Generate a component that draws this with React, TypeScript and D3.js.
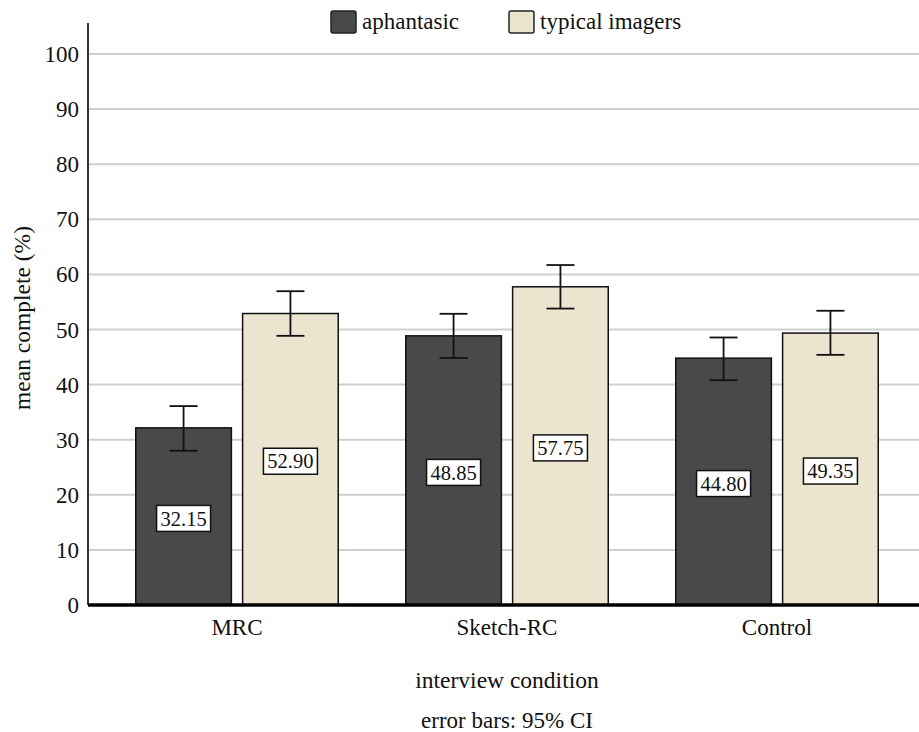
import * as d3 from "d3";

const conditions = ["MRC", "Sketch-RC", "Control"];
const groups = ["aphantasic", "typical imagers"];
const aphantasicMeans = [32.15, 48.85, 44.8];
const typicalMeans = [52.9, 57.75, 49.35];
const aphantasicLow = [28.0, 44.85, 40.8];
const aphantasicHigh = [36.1, 52.85, 48.55];
const typicalLow = [48.85, 53.8, 45.4];
const typicalHigh = [56.95, 61.7, 53.4];
const yTicks = [0, 10, 20, 30, 40, 50, 60, 70, 80, 90, 100];

const W = 919;
const H = 732;
const axisX = 88;
const base = 605;
const colors = ["#47494b", "#ebe4cf"];
const ff = "Liberation Serif";

const App = () => {
  const y = d3.scaleLinear().domain([0, 100]).range([base, 54]);
  const x = d3.scaleBand().domain(conditions).range([102, 912]).paddingInner(0.25).paddingOuter(0.125);
  const xi = d3.scaleBand().domain(groups).range([0, x.bandwidth()]).paddingInner(0.105);

  const rows = conditions.flatMap((c, i) => [
    { c, g: groups[0], v: aphantasicMeans[i], lo: aphantasicLow[i], hi: aphantasicHigh[i], col: colors[0] },
    { c, g: groups[1], v: typicalMeans[i], lo: typicalLow[i], hi: typicalHigh[i], col: colors[1] },
  ]);

  return (
    <svg width={W} height={H} style={{ position: "absolute", left: 0, top: 0, background: "#fff" }}>
      {/* gridlines */}
      {yTicks.filter(t => t > 0).map(t => (
        <line key={t} x1={axisX} x2={W} y1={y(t)} y2={y(t)} stroke="#cfcfcf" strokeWidth={2} />
      ))}
      {/* tick labels */}
      {yTicks.map(t => (
        <text key={t} x={79} y={y(t)} dy="0.35em" textAnchor="end" fontFamily={ff} fontSize={23} fill="#111">{t}</text>
      ))}
      {/* bars */}
      {rows.map((r, i) => {
        const bx = (x(r.c) ?? 0) + (xi(r.g) ?? 0);
        return (
          <rect key={i} x={bx} y={y(r.v)} width={xi.bandwidth()} height={base - y(r.v)} fill={r.col} stroke="#111" strokeWidth={1.5} />
        );
      })}
      {/* error bars and value labels */}
      {rows.map((r, i) => {
        const cx = (x(r.c) ?? 0) + (xi(r.g) ?? 0) + xi.bandwidth() / 2;
        const ly = y(r.v / 2) + 2;
        return (
          <g key={i}>
            <line x1={cx} x2={cx} y1={y(r.hi)} y2={y(r.lo)} stroke="#111" strokeWidth={1.8} />
            <line x1={cx - 14} x2={cx + 14} y1={y(r.hi)} y2={y(r.hi)} stroke="#111" strokeWidth={1.8} />
            <line x1={cx - 14} x2={cx + 14} y1={y(r.lo)} y2={y(r.lo)} stroke="#111" strokeWidth={1.8} />
            <rect x={cx - 27} y={ly - 13} width={54} height={26} fill="#fff" stroke="#111" strokeWidth={1.5} />
            <text x={cx} y={ly} dy="0.35em" textAnchor="middle" fontFamily={ff} fontSize={20.5} fill="#111">{r.v.toFixed(2)}</text>
          </g>
        );
      })}
      {/* axes */}
      <line x1={axisX} x2={axisX} y1={23} y2={base} stroke="#333" strokeWidth={2} />
      <line x1={axisX} x2={W} y1={base} y2={base} stroke="#000" strokeWidth={3.5} />
      {conditions.map(c => (
        <text key={c} x={(x(c) ?? 0) + x.bandwidth() / 2} y={635} textAnchor="middle" fontFamily={ff} fontSize={23} fill="#111">{c}</text>
      ))}
      <text x={507} y={688} textAnchor="middle" fontFamily={ff} fontSize={23.5} fill="#111">interview condition</text>
      <text x={507} y={728} textAnchor="middle" fontFamily={ff} fontSize={23} fill="#111">error bars: 95% CI</text>
      <text transform="translate(30,318) rotate(-90)" textAnchor="middle" fontFamily={ff} fontSize={23.5} fill="#111">mean complete (%)</text>
      {/* legend */}
      {groups.map((g, i) => {
        const lx = i === 0 ? 331 : 509;
        return (
          <g key={g}>
            <rect x={lx} y={11} width={25} height={22} rx={2} fill={colors[i]} stroke="#222" strokeWidth={1.5} />
            <text x={lx + 31} y={29} fontFamily={ff} fontSize={23} fill="#111">{g}</text>
          </g>
        );
      })}
    </svg>
  );
};

export default App;
